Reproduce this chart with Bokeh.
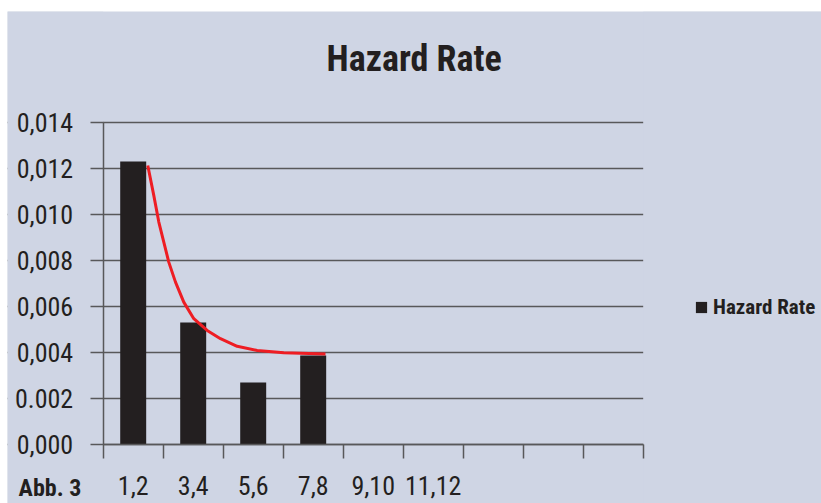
from bokeh.plotting import figure
from bokeh.models import (Range1d, FixedTicker, CustomJSTickFormatter, Label,
                          Legend, LegendItem, ColumnDataSource, BoxAnnotation)
from bokeh.embed import file_html
from bokeh.resources import INLINE

# ---- data ----
categories = ["1,2", "3,4", "5,6", "7,8", "9,10", "11,12", "", "", ""]
hazard_rate = [0.0123, 0.0053, 0.0027, 0.00387]
# red trend curve (x in category units, 0 = left edge)
trend_x = [0.743, 0.843, 0.927, 1.010, 1.093, 1.205, 1.343, 1.510, 1.733,
           1.955, 2.233, 2.567, 3.010, 3.705]
trend_y = [0.01213, 0.01083, 0.00967, 0.00880, 0.00793, 0.00706, 0.00619, 0.00547,
           0.00496, 0.00460, 0.00427, 0.00409, 0.00399, 0.00393]
y_ticks = [0.0, 0.002, 0.004, 0.006, 0.008, 0.010, 0.012, 0.014]

BG = "#cfd5e4"
INK = "#231f20"
GRID = "#58585a"
NARROW = "'Roboto Condensed', 'Liberation Sans Narrow', 'Liberation Sans', sans-serif"

N = len(categories)
# the frame covers the whole panel; the axes sit at fixed locations inside it
p = figure(width=814, height=492, output_backend="svg", toolbar_location=None,
           x_range=Range1d(-1.595, 11.972), y_range=Range1d(-0.002565, 0.018826),
           min_border=0, min_border_left=0, min_border_right=0,
           min_border_top=0, min_border_bottom=0)
p.margin = (11, 0, 0, 7)
p.background_fill_color = BG
p.border_fill_color = BG
p.outline_line_color = None

src = ColumnDataSource(dict(x=[i + 0.5 for i in range(len(hazard_rate))], top=hazard_rate))
bars = p.vbar(x="x", top="top", width=0.433, bottom=0, source=src,
              fill_color=INK, line_color=None)
p.line(trend_x, trend_y, line_color="#ee1d23", line_width=3, line_join="round")

# x axis: tick marks at category boundaries, labels at centres
p.xaxis.fixed_location = 0
p.xaxis.bounds = (0, N)
p.xaxis.ticker = FixedTicker(ticks=[i + 0.5 for i in range(N)],
                             minor_ticks=list(range(N + 1)))
p.xaxis.formatter = CustomJSTickFormatter(args=dict(labels=categories),
                                          code="return labels[Math.floor(tick)];")
p.xaxis.major_tick_line_color = None
p.xaxis.major_tick_out = 0
p.xaxis.major_tick_in = 0
p.xaxis.minor_tick_out = 14
p.xaxis.minor_tick_in = 0
p.xaxis.minor_tick_line_color = GRID
p.xaxis.minor_tick_line_width = 1.5
p.xaxis.major_label_standoff = 17

p.yaxis.fixed_location = 0
p.yaxis.bounds = (y_ticks[0], y_ticks[-1])
p.yaxis.ticker = FixedTicker(ticks=y_ticks, minor_ticks=[])
p.yaxis.formatter = CustomJSTickFormatter(code="""
const s = tick.toFixed(3);
return Math.abs(tick - 0.002) < 1e-9 ? s : s.replace('.', ',');
""")
p.yaxis.major_tick_out = 13
p.yaxis.major_tick_in = 0
p.yaxis.minor_tick_line_color = None
p.yaxis.major_tick_line_color = GRID
p.yaxis.major_tick_line_width = 1.5
p.yaxis.major_label_standoff = 17

for ax in (p.xaxis, p.yaxis):
    ax.axis_line_color = GRID
    ax.axis_line_width = 1.5
    ax.major_label_text_font = NARROW
    ax.major_label_text_font_size = "26px"
    ax.major_label_text_color = INK

p.xgrid.grid_line_color = None
p.ygrid.grid_line_color = GRID
p.ygrid.grid_line_width = 1.5
# keep the grid lines inside the plot area
p.add_layout(BoxAnnotation(right=0, fill_color=BG, fill_alpha=1, line_color=None, level="underlay"))
p.add_layout(BoxAnnotation(left=N, fill_color=BG, fill_alpha=1, line_color=None, level="underlay"))

# title and figure caption
p.add_layout(Label(x=5.183, y=0.01674, text="Hazard Rate", text_align="center",
                   text_baseline="alphabetic", text_font=NARROW, text_font_style="bold",
                   text_font_size="36px", text_color=INK))
p.add_layout(Label(x=-1.41, y=-0.00191, text="Abb. 3", text_align="left",
                   text_baseline="alphabetic", text_font=NARROW, text_font_style="bold",
                   text_font_size="24px", text_color=INK))

legend = Legend(items=[LegendItem(label="Hazard Rate", renderers=[bars])],
                location=(687, 184), orientation="vertical",
                glyph_width=14, glyph_height=14, label_standoff=5,
                padding=0, spacing=0, margin=0,
                background_fill_alpha=0, border_line_color=None,
                label_text_font=NARROW, label_text_font_style="bold",
                label_text_font_size="21px", label_text_color=INK)
p.add_layout(legend, "center")

open("out.html", "w").write(file_html(p, INLINE))
